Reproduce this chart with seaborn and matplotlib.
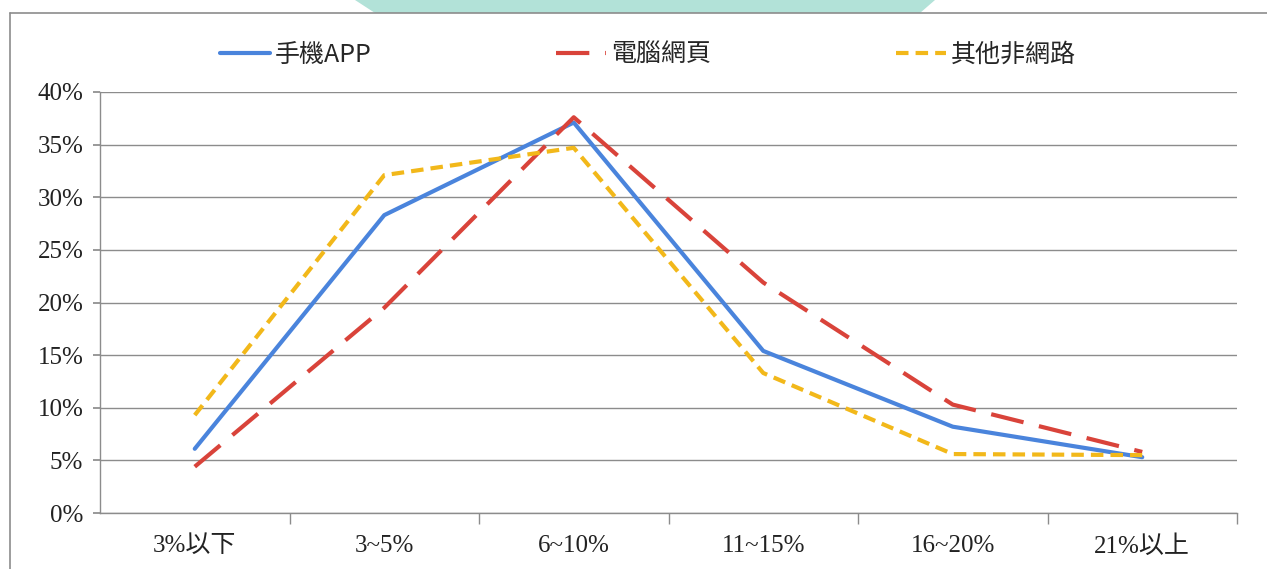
import matplotlib
matplotlib.use("Agg")
import matplotlib.pyplot as plt
from matplotlib.lines import Line2D
from matplotlib.patches import Polygon
from matplotlib.ticker import FuncFormatter, FixedLocator
import pandas as pd
import seaborn as sns

# data (percent)
categories = ["3%以下", "3~5%", "6~10%", "11~15%", "16~20%", "21%以上"]
series_names = ["手機APP", "電腦網頁", "其他非網路"]
app_values = [6.1, 28.3, 37.1, 15.4, 8.2, 5.3]
web_values = [4.4, 19.5, 37.6, 21.9, 10.3, 5.8]
offline_values = [9.3, 32.1, 34.7, 13.3, 5.6, 5.5]

colors = {"手機APP": "#4a84dc", "電腦網頁": "#d9433a", "其他非網路": "#f2b81a"}
dashes = {"手機APP": "", "電腦網頁": (8, 3.8), "其他非網路": (3, 1.7)}

rows = []
for name, vals in zip(series_names, [app_values, web_values, offline_values]):
    for cat, v in zip(categories, vals):
        rows.append({"類別": cat, "比例": v, "來源": name})
df = pd.DataFrame(rows)

sns.set_theme(style="white")
plt.rcParams["font.family"] = ["Liberation Serif", "Noto Sans CJK TC", "DejaVu Sans"]

fig = plt.figure(figsize=(12.67, 5.69), dpi=100)
ax = fig.add_axes([100 / 1267, 1 - 513 / 569, 1137 / 1267, 421 / 569])

sns.lineplot(
    data=df, x="類別", y="比例", hue="來源", style="來源",
    hue_order=series_names, style_order=series_names,
    palette=colors, dashes=dashes, linewidth=3, sort=False, ax=ax,
)

ax.set_xlim(-0.5, len(categories) - 0.5)
ax.set_ylim(0, 40)
ax.set_yticks(range(0, 41, 5))
ax.yaxis.set_major_formatter(FuncFormatter(lambda v, _: f"{v:.0f}%"))
ax.grid(axis="y", color="#8c8c8c", linewidth=1)
ax.set_axisbelow(True)
ax.set_xlabel("")
ax.set_ylabel("")

for side in ["top", "right"]:
    ax.spines[side].set_visible(False)
for side in ["left", "bottom"]:
    ax.spines[side].set_color("#8c8c8c")
    ax.spines[side].set_linewidth(1)

# category ticks sit between categories
ax.xaxis.set_minor_locator(FixedLocator([i + 0.5 for i in range(len(categories))]))
ax.tick_params(axis="x", which="major", length=0, pad=16, labelsize=18)
ax.tick_params(axis="x", which="minor", bottom=True, length=8, color="#8c8c8c", width=1)
ax.tick_params(axis="y", left=True, length=5, color="#8c8c8c", pad=7, labelsize=18)
for lab in ax.get_xticklabels() + ax.get_yticklabels():
    lab.set_color("#222222")

handles, labels = ax.get_legend_handles_labels()
ax.get_legend().remove()
fig.legend(
    handles, labels, loc="center", bbox_to_anchor=(648 / 1267, 1 - 55 / 569), ncol=3,
    frameon=False, handlelength=2.0, handletextpad=0.2, columnspacing=7.4,
    prop={"family": ["Noto Sans CJK TC"], "size": 18},
)

# page decoration: teal tab and border lines
fig.patches.append(Polygon(
    [(355 / 1267, 1.0), (935 / 1267, 1.0), (920 / 1267, 1 - 13 / 569), (375 / 1267, 1 - 13 / 569)],
    closed=True, transform=fig.transFigure, facecolor="#b2e2d8", edgecolor="none",
))
fig.lines.append(Line2D([10 / 1267, 1.0], [1 - 13 / 569, 1 - 13 / 569],
                        transform=fig.transFigure, color="#8c8c8c", linewidth=1.2))
fig.lines.append(Line2D([10 / 1267, 10 / 1267], [0, 1 - 13 / 569],
                        transform=fig.transFigure, color="#8c8c8c", linewidth=1.2))

fig.savefig("out.png", dpi=100)
